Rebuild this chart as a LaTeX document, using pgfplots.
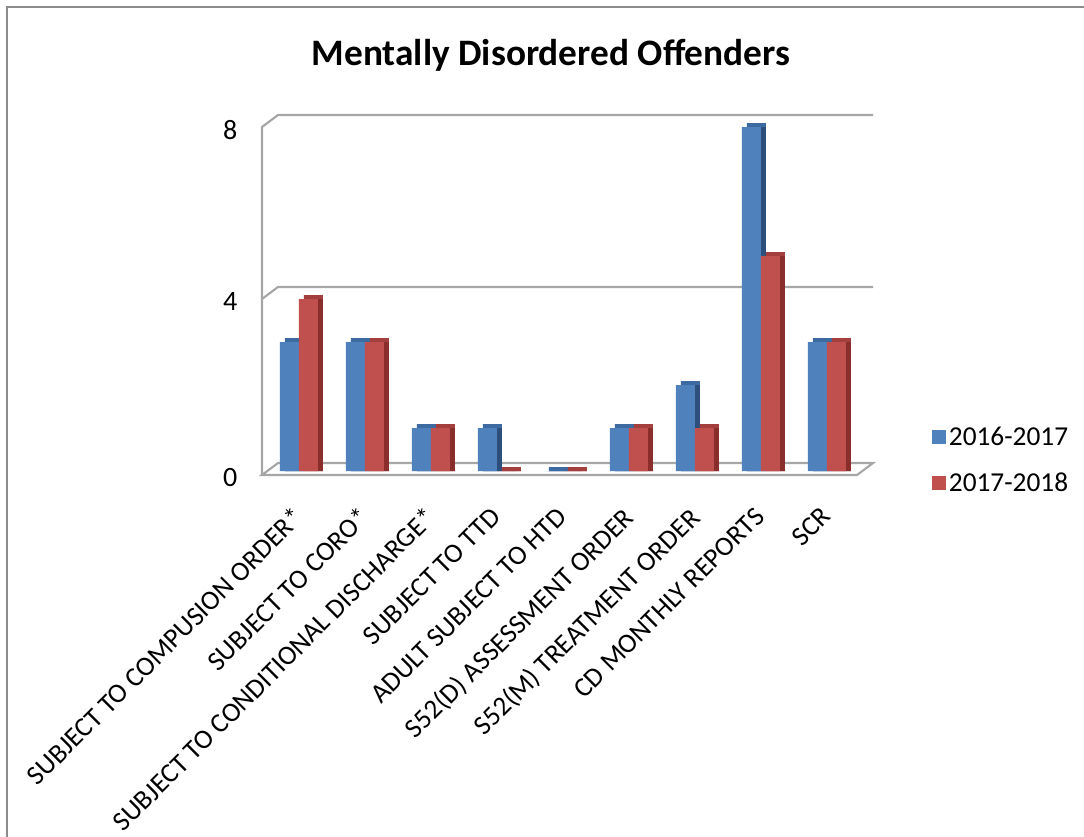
\documentclass[border=0pt]{standalone}
\usepackage{pgfplots}
\pgfplotsset{compat=1.18}
\usepackage{pgfplotstable}
\usepackage{fontspec}
\setmainfont{Carlito}

\definecolor{blueFront}{HTML}{4F81BD}
\definecolor{blueTop}{HTML}{3D6AA0}
\definecolor{blueSide}{HTML}{2C4F7C}
\definecolor{redFront}{HTML}{C0504D}
\definecolor{redTop}{HTML}{A33F3C}
\definecolor{redSide}{HTML}{8A2E2C}
\definecolor{frameGray}{HTML}{A6A6A6}
\definecolor{borderGray}{HTML}{8C8C8C}

% Mentally disordered offenders by category, two reporting years
\pgfplotstableread{
idx a b
0 3 4
1 3 3
2 1 1
3 1 0
4 0 0
5 1 1
6 2 1
7 8 5
8 3 3
}\mdo

\begin{document}
\begin{tikzpicture}
\useasboundingbox (0,0) rectangle (813pt,-627pt);
% outer chart border
\draw[borderGray, line width=1.1pt] (5.25pt,-640pt) -- (5.25pt,-5.25pt) -- (820pt,-5.25pt);
\node[font=\fontsize{28}{32}\selectfont\bfseries] at (413.25pt,-41.25pt) {Mentally Disordered Offenders};

\begin{axis}[
  at={(196.5pt,-356.25pt)}, anchor=south west,
  scale only axis, width=446.25pt, height=261pt,
  xmin=-0.56, xmax=8.455, ymin=-0.093, ymax=8,
  clip=false,
  axis line style={draw=none},
  major tick length=0pt,
  ytick={-0.093,4,8}, yticklabels={0,4,8},
  yticklabel style={font=\fontsize{21}{25}\selectfont, xshift=-15pt, yshift=-2pt},
  xtick={0,...,8},
  xticklabels={SUBJECT TO COMPUSION ORDER*, SUBJECT TO CORO*, SUBJECT TO CONDITIONAL DISCHARGE*, SUBJECT TO TTD, ADULT SUBJECT TO HTD, S52(D) ASSESSMENT ORDER, S52(M) TREATMENT ORDER, CD MONTHLY REPORTS, SCR},
  xticklabel style={font=\fontsize{20.5}{24}\selectfont, rotate=45, anchor=north east, inner sep=0pt, xshift=-20pt, yshift=-12pt},
  legend style={at={(1.126,0.043)}, anchor=west, draw=none, fill=none,
    font=\fontsize{20.5}{24}\selectfont, row sep=15pt, inner sep=0pt},
  legend cell align=left,
  legend image code/.code={\fill[#1] (0pt,-5.25pt) rectangle (10.5pt,5.25pt);},
]
% floor, back wall gridlines and left edge
\draw[frameGray, line width=1.6pt, fill=white] (-0.56,-0.093) -- (8.455,-0.093) -- ++(12pt,9pt) -- ([shift={(12pt,9pt)}]axis cs:-0.56,-0.093) -- cycle;
\draw[frameGray, line width=1.6pt] (-0.56,-0.093) -- (-0.56,8) -- ++(12pt,9pt) -- ([shift={(12pt,9pt)}]axis cs:8.455,8);
\draw[frameGray, line width=1.6pt] (-0.56,4) -- ++(12pt,9pt) -- ([shift={(12pt,9pt)}]axis cs:8.455,4);

% depth faces of the bars
\addplot[ybar, bar width=14.25pt, bar shift=-3.375pt, fill=blueTop, draw=none, forget plot]
  table[x=idx, y expr=\thisrow{a}+0.093] {\mdo};
\addplot[ybar, bar width=14.25pt, bar shift=-3.375pt, fill=blueSide, draw=none, forget plot]
  table[x=idx, y=a] {\mdo};
\addplot[ybar, bar width=14.25pt, bar shift=10.875pt, fill=redTop, draw=none, forget plot]
  table[x=idx, y expr=\thisrow{b}+0.093] {\mdo};
\addplot[ybar, bar width=14.25pt, bar shift=10.875pt, fill=redSide, draw=none, forget plot]
  table[x=idx, y=b] {\mdo};
% front faces
\addplot[ybar, bar width=14.25pt, bar shift=-7.125pt, fill=blueFront, draw=none]
  table[x=idx, y=a] {\mdo};
\addlegendentry{2016-2017}
\addplot[ybar, bar width=14.25pt, bar shift=7.125pt, fill=redFront, draw=none]
  table[x=idx, y=b] {\mdo};
\addlegendentry{2017-2018}
\end{axis}
\end{tikzpicture}
\end{document}
